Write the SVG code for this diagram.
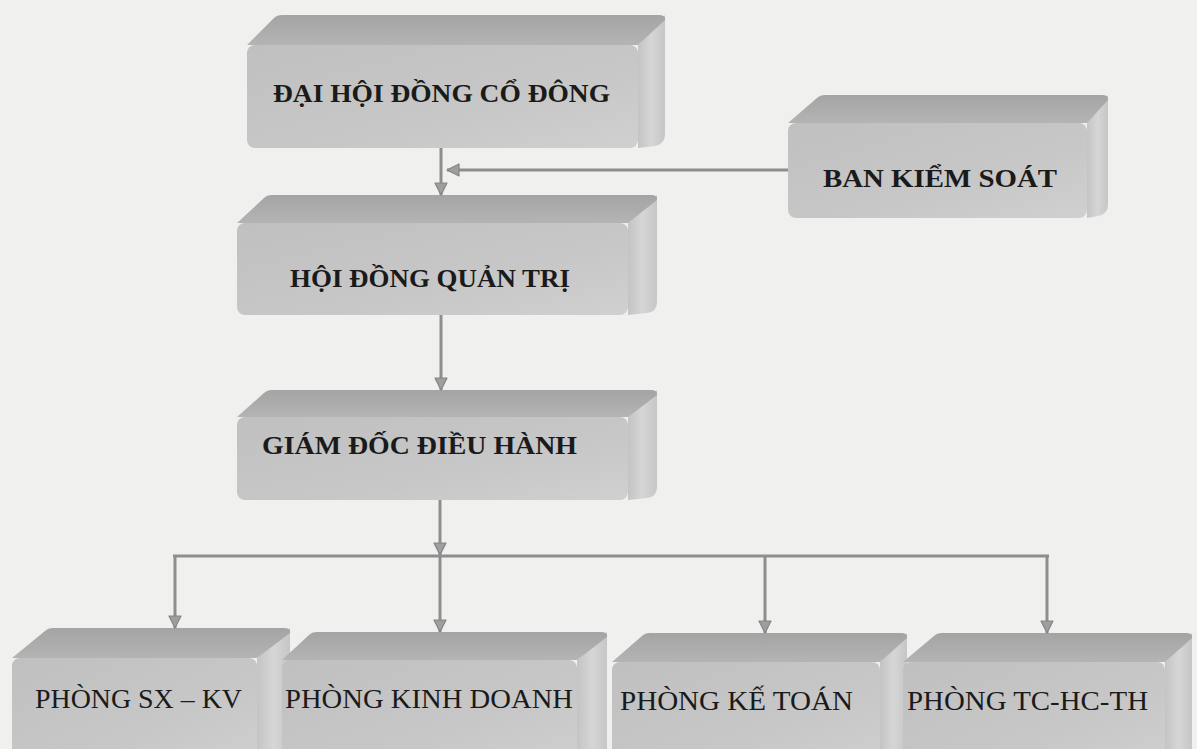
<svg xmlns="http://www.w3.org/2000/svg" width="1197" height="749" viewBox="0 0 1197 749">
<style>
.front{fill:url(#gFront)}
.top{fill:url(#gTop)}
.side{fill:url(#gSide)}
.lbl{font-family:"Liberation Serif","DejaVu Serif","Times New Roman",serif;fill:#1a1a1a}
.b{font-weight:bold;font-size:26px}
.r{font-size:28px}
.con{stroke:#8e8e8e;stroke-width:3;fill:none}
</style>
<defs>
<linearGradient id="gFront" x1="0" y1="0" x2="1" y2="1">
<stop offset="0" stop-color="#c0c0c0"/>
<stop offset="0.6" stop-color="#c7c7c7"/>
<stop offset="1" stop-color="#d0d0d0"/>
</linearGradient>
<linearGradient id="gTop" x1="0" y1="0" x2="0" y2="1">
<stop offset="0" stop-color="#a4a4a4"/>
<stop offset="1" stop-color="#b4b4b4"/>
</linearGradient>
<linearGradient id="gSide" x1="0" y1="0" x2="1" y2="0">
<stop offset="0" stop-color="#c4c4c4"/>
<stop offset="0.5" stop-color="#d6d6d6"/>
<stop offset="1" stop-color="#c6c6c6"/>
</linearGradient>
<marker id="arr" viewBox="0 0 14 14" refX="13" refY="7" markerWidth="14" markerHeight="14" markerUnits="userSpaceOnUse" orient="auto">
<path d="M1,1 L13,7 L1,13 Z" fill="#9e9e9e" stroke="#858585" stroke-width="1.2" stroke-linejoin="round"/>
</marker>
</defs>
<rect width="1197" height="749" fill="#f0f0ee"/>

<g id="node-dhdcd">
<path class="side" d="M638,45 L665,15 L665,134 Q665,144 655,146 L638,148 Z"/>
<path class="top" d="M247,45 L274,18 Q277,15 282,15 L659,15 Q666,15 665,20 L638,45 Z"/>
<rect class="front" x="247" y="45" width="391" height="103" rx="8"/>
<text class="lbl b" x="273" y="102" textLength="337" lengthAdjust="spacingAndGlyphs">ĐẠI HỘI ĐỒNG CỔ ĐÔNG</text>
</g>

<g id="node-bks">
<path class="side" d="M1087,123 L1108,95 L1108,204 Q1108,214 1098,216 L1087,218 Z"/>
<path class="top" d="M788,123 L817,98 Q820,95 825,95 L1102,95 Q1109,95 1108,100 L1087,123 Z"/>
<rect class="front" x="788" y="123" width="299" height="95" rx="8"/>
<text class="lbl b" x="823" y="187" textLength="234" lengthAdjust="spacingAndGlyphs">BAN KIỂM SOÁT</text>
</g>

<g id="node-hdqt">
<path class="side" d="M628,223 L657,195 L657,302 Q657,312 647,313 L628,315 Z"/>
<path class="top" d="M237,223 L264,198 Q267,195 272,195 L651,195 Q658,195 657,200 L628,223 Z"/>
<rect class="front" x="237" y="223" width="391" height="92" rx="8"/>
<text class="lbl b" x="290" y="287" textLength="280" lengthAdjust="spacingAndGlyphs">HỘI ĐỒNG QUẢN TRỊ</text>
</g>

<g id="node-gddh">
<path class="side" d="M628,417 L657,390 L657,487 Q657,497 647,498 L628,500 Z"/>
<path class="top" d="M237,417 L264,393 Q267,390 272,390 L651,390 Q658,390 657,395 L628,417 Z"/>
<rect class="front" x="237" y="417" width="391" height="83" rx="8"/>
<text class="lbl b" x="262" y="454" textLength="315" lengthAdjust="spacingAndGlyphs">GIÁM ĐỐC ĐIỀU HÀNH</text>
</g>

<g id="node-sxkv">
<path class="side" d="M257,658 L290,628 L290,760 L257,760 Z"/>
<path class="top" d="M12,658 L45,631 Q48,628 53,628 L284,628 Q291,628 290,633 L257,658 Z"/>
<rect class="front" x="12" y="658" width="245" height="110" rx="8"/>
<text class="lbl r" x="35" y="708" textLength="207" lengthAdjust="spacingAndGlyphs">PHÒNG SX – KV</text>
</g>

<g id="node-kd">
<path class="side" d="M577,660 L607,632 L607,760 L577,760 Z"/>
<path class="top" d="M282,660 L309,635 Q312,632 317,632 L601,632 Q608,632 607,637 L577,660 Z"/>
<rect class="front" x="282" y="660" width="295" height="110" rx="8"/>
<text class="lbl r" x="285" y="708" textLength="288" lengthAdjust="spacingAndGlyphs">PHÒNG KINH DOANH</text>
</g>

<g id="node-kt">
<path class="side" d="M880,662 L907,633 L907,760 L880,760 Z"/>
<path class="top" d="M612,662 L642,636 Q645,633 650,633 L901,633 Q908,633 907,638 L880,662 Z"/>
<rect class="front" x="612" y="662" width="268" height="110" rx="8"/>
<text class="lbl r" x="620" y="710" textLength="233" lengthAdjust="spacingAndGlyphs">PHÒNG KẾ TOÁN</text>
</g>

<g id="node-tchcth">
<path class="side" d="M1165,662 L1192,633 L1192,760 L1165,760 Z"/>
<path class="top" d="M903,662 L934,636 Q937,633 942,633 L1186,633 Q1193,633 1192,638 L1165,662 Z"/>
<rect class="front" x="903" y="662" width="262" height="110" rx="8"/>
<text class="lbl r" x="907" y="710" textLength="241" lengthAdjust="spacingAndGlyphs">PHÒNG TC-HC-TH</text>
</g>

<g id="connectors">
<path class="con" d="M441,148 L441,195" marker-end="url(#arr)"/>
<path class="con" d="M788,170 L447,170" marker-end="url(#arr)"/>
<path class="con" d="M441,315 L441,390" marker-end="url(#arr)"/>
<path class="con" d="M440,500 L440,555" marker-end="url(#arr)"/>
<path class="con" d="M173,556 L1049,556"/>
<path class="con" d="M175,556 L175,628" marker-end="url(#arr)"/>
<path class="con" d="M440,556 L440,632" marker-end="url(#arr)"/>
<path class="con" d="M765,556 L765,633" marker-end="url(#arr)"/>
<path class="con" d="M1047,556 L1047,633" marker-end="url(#arr)"/>
</g>
</svg>
